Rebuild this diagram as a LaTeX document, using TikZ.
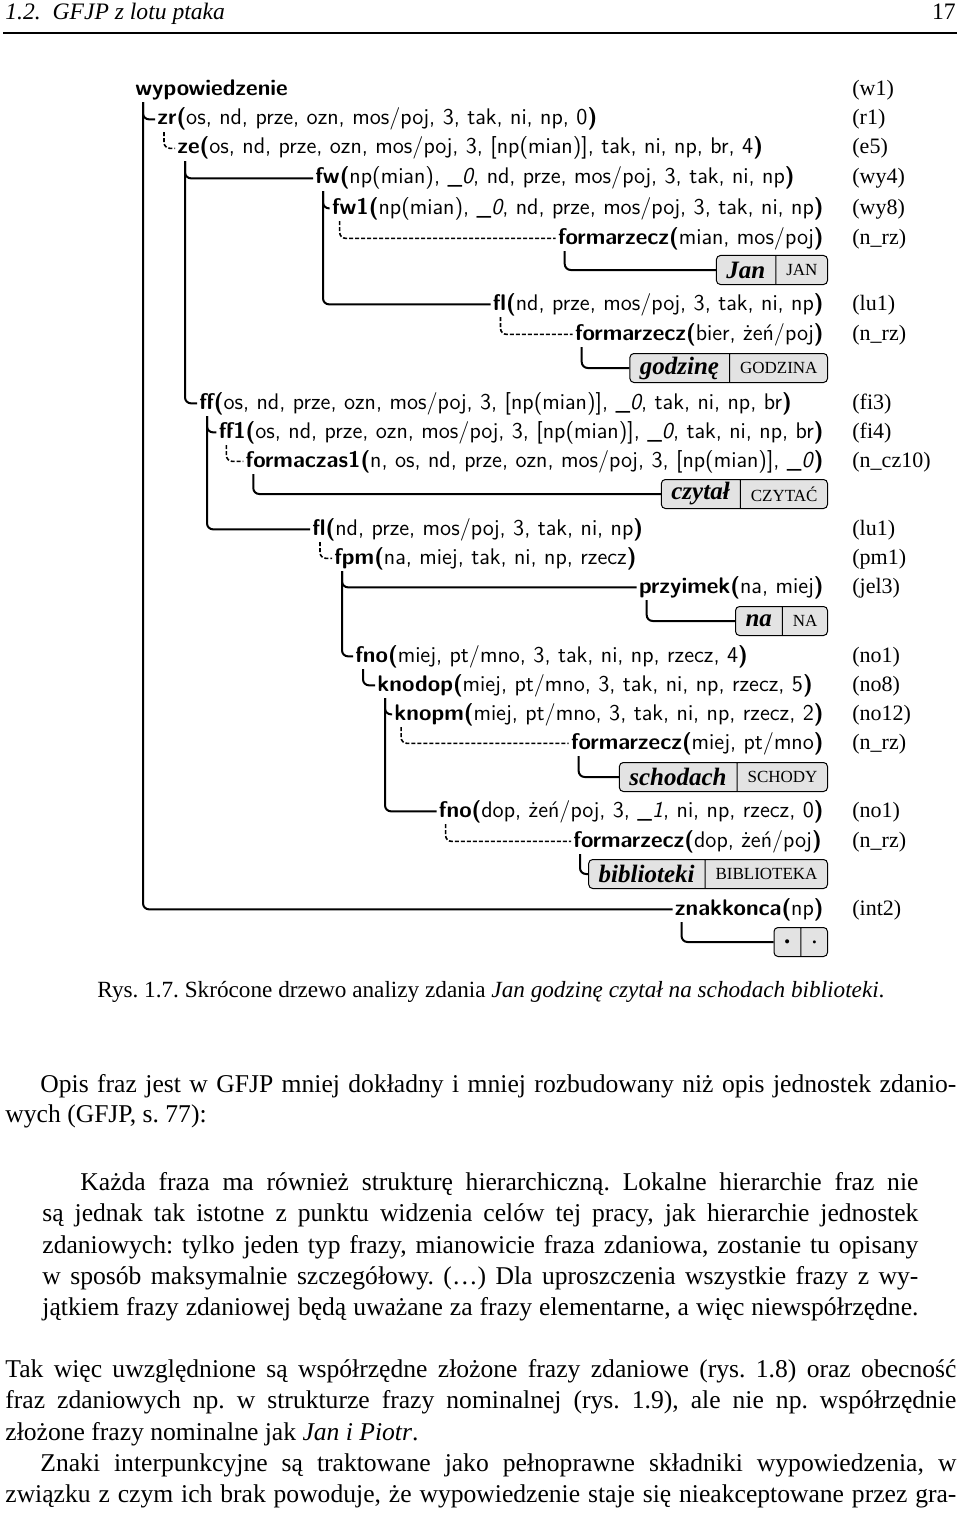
\documentclass[tikz,border=0pt]{standalone}
\usepackage{fontspec}
\setmainfont{Liberation Serif}
\usetikzlibrary{shapes.multipart}
\newcommand{\gfjp}[2]{\textbf{#1(}#2\textbf{)}}
\newcommand{\lem}[1]{{\fontsize{8.5}{9}\selectfont #1}}

\begin{document}
\frenchspacing
\begin{tikzpicture}[x=0.5pt,y=-0.5pt,
  tr/.style={inner xsep=1pt,inner ysep=0.5pt,font=\sffamily\fontsize{11.3}{13}\selectfont},
  lab/.style={inner sep=0pt,anchor=base west,font=\fontsize{11}{13}\selectfont},
  lex/.style={rectangle split,rectangle split horizontal,rectangle split parts=2,draw,fill=gray!22,
    rounded corners=2pt,line width=0.5pt,minimum height=14.5pt,inner xsep=5pt,inner ysep=0pt,
    anchor=east,font=\fontsize{12.5}{13}\selectfont},
  sline/.style={line width=1pt,rounded corners=3pt},
  dline/.style={line width=0.8pt,rounded corners=3pt,dash pattern=on 2pt off 1pt},
  txt/.style={inner sep=0pt,anchor=base west,font=\fontsize{12.8}{15}\selectfont}]
\useasboundingbox (0,0) rectangle (960,1514);

% naglowek strony
\node[txt,font=\fontsize{11.8}{14}\selectfont] (hd) at (5,20) {\textit{1.2.\ \ GFJP z lotu ptaka}};
\node[txt,anchor=base east,font=\fontsize{11.8}{14}\selectfont] (pg) at (956,20) {17};
\draw[line width=1pt] (3,33) -- (957,33);

% drzewo
\node[tr,anchor=base west] (wyp) at (133,96) {\textbf{wypowiedzenie}};
\node[tr,anchor=base west] (zr) at (155,125) {\gfjp{zr}{os, nd, prze, ozn, mos/poj, 3, tak, ni, np, 0}};
\node[tr,anchor=base west] (ze) at (175,154) {\gfjp{ze}{os, nd, prze, ozn, mos/poj, 3, [np(mian)], tak, ni, np, br, 4}};
\node[tr,anchor=base west] (fw) at (313,184) {\gfjp{fw}{np(mian), \_\textit{0}, nd, prze, mos/poj, 3, tak, ni, np}};
\node[tr,anchor=base east] (fw1) at (826,214) {\gfjp{fw1}{np(mian), \_\textit{0}, nd, prze, mos/poj, 3, tak, ni, np}};
\node[tr,anchor=base east] (fmzA) at (826,244) {\gfjp{formarzecz}{mian, mos/poj}};
\node[lex] (jan) at (828,270) {\textbf{\textit{Jan}}\nodepart{two}\lem{JAN}};
\node[tr,anchor=base east] (flA) at (826,310) {\gfjp{fl}{nd, prze, mos/poj, 3, tak, ni, np}};
\node[tr,anchor=base east] (fmzB) at (826,340) {\gfjp{formarzecz}{bier, żeń/poj}};
\node[lex] (godz) at (828,368) {\textbf{\textit{godzinę}}\nodepart{two}\lem{GODZINA}};
\node[tr,anchor=base west] (ff) at (197,409) {\gfjp{ff}{os, nd, prze, ozn, mos/poj, 3, [np(mian)], \_\textit{0}, tak, ni, np, br}};
\node[tr,anchor=base east] (ff1) at (826,438) {\gfjp{ff1}{os, nd, prze, ozn, mos/poj, 3, [np(mian)], \_\textit{0}, tak, ni, np, br}};
\node[tr,anchor=base east] (fcz) at (826,467) {\gfjp{formaczas1}{n, os, nd, prze, ozn, mos/poj, 3, [np(mian)], \_\textit{0}}};
\node[lex] (czytal) at (828,494) {\textbf{\textit{czytał}}\nodepart{two}\lem{CZYTAĆ}};
\node[tr,anchor=base west] (flB) at (310,535) {\gfjp{fl}{nd, prze, mos/poj, 3, tak, ni, np}};
\node[tr,anchor=base west] (fpm) at (332,564) {\gfjp{fpm}{na, miej, tak, ni, np, rzecz}};
\node[tr,anchor=base east] (przy) at (826,593) {\gfjp{przyimek}{na, miej}};
\node[lex] (na) at (828,621) {\textbf{\textit{na}}\nodepart{two}\lem{NA}};
\node[tr,anchor=base west] (fnoA) at (353,662) {\gfjp{fno}{miej, pt/mno, 3, tak, ni, np, rzecz, 4}};
\node[tr,anchor=base west] (knodop) at (375,691) {\gfjp{knodop}{miej, pt/mno, 3, tak, ni, np, rzecz, 5}};
\node[tr,anchor=base east] (knopm) at (826,720) {\gfjp{knopm}{miej, pt/mno, 3, tak, ni, np, rzecz, 2}};
\node[tr,anchor=base east] (fmzC) at (826,749) {\gfjp{formarzecz}{miej, pt/mno}};
\node[lex] (schody) at (828,777) {\textbf{\textit{schodach}}\nodepart{two}\lem{SCHODY}};
\node[tr,anchor=base east] (fnoB) at (826,817) {\gfjp{fno}{dop, żeń/poj, 3, \_\textit{1}, ni, np, rzecz, 0}};
\node[tr,anchor=base west] (fmzD) at (571,847) {\gfjp{formarzecz}{dop, żeń/poj}};
\node[lex] (bibl) at (828,874) {\textbf{\textit{biblioteki}}\nodepart{two}\lem{BIBLIOTEKA}};
\node[tr,anchor=base east] (znak) at (826,915) {\gfjp{znakkonca}{np}};
\node[lex] (kropka) at (828,942) {\textbf{.}\nodepart{two}.};

% reguly
\foreach \y/\r in {96/w1, 125/r1, 154/e5, 184/wy4, 214/wy8, 244/n\_rz, 310/lu1, 340/n\_rz,
    409/fi3, 438/fi4, 467/n\_cz10, 535/lu1, 564/pm1, 593/jel3, 662/no1, 691/no8,
    720/no12, 749/n\_rz, 817/no1, 847/n\_rz, 915/int2}
  \node[lab] (r\y) at (852,\y) {(\r)};

% polaczenia
\draw[sline] ([xshift=5pt]wyp.south west) |- (zr.west);
\draw[sline] ([xshift=5pt]wyp.south west) |- (znak.west);
\draw[dline] ([xshift=4.5pt]zr.south west) |- (ze.west);
\draw[sline] ([xshift=5pt]ze.south west) |- (fw.west);
\draw[sline] ([xshift=5pt]ze.south west) |- (ff.west);
\draw[sline] ([xshift=5pt]fw.south west) |- (fw1.west);
\draw[sline] ([xshift=5pt]fw.south west) |- (flA.west);
\draw[dline] ([xshift=5pt]fw1.south west) |- (fmzA.west);
\draw[sline] ([xshift=4.5pt]fmzA.south west) |- (jan.west);
\draw[dline] ([xshift=5pt]flA.south west) |- (fmzB.west);
\draw[sline] ([xshift=4.5pt]fmzB.south west) |- (godz.west);
\draw[sline] ([xshift=5pt]ff.south west) |- (ff1.west);
\draw[sline] ([xshift=5pt]ff.south west) |- (flB.west);
\draw[dline] ([xshift=5pt]ff1.south west) |- (fcz.west);
\draw[sline] ([xshift=5pt]fcz.south west) |- (czytal.west);
\draw[dline] ([xshift=5pt]flB.south west) |- (fpm.west);
\draw[sline] ([xshift=5pt]fpm.south west) |- (przy.west);
\draw[sline] ([xshift=5pt]fpm.south west) |- (fnoA.west);
\draw[sline] ([xshift=5pt]przy.south west) |- (na.west);
\draw[sline] ([xshift=5pt]fnoA.south west) |- (knodop.west);
\draw[sline] ([xshift=5pt]knodop.south west) |- (knopm.west);
\draw[sline] ([xshift=5pt]knodop.south west) |- (fnoB.west);
\draw[dline] ([xshift=4.5pt]knopm.south west) |- (fmzC.west);
\draw[sline] ([xshift=5pt]fmzC.south west) |- (schody.west);
\draw[dline] ([xshift=4.5pt]fnoB.south west) |- (fmzD.west);
\draw[sline] ([xshift=4.5pt]fmzD.south west) |- (bibl.west);
\draw[sline] ([xshift=4.5pt]znak.south west) |- (kropka.west);

% podpis i tekst
\node[txt,anchor=base,font=\fontsize{11.6}{14}\selectfont] (cap) at (491,997) {Rys. 1.7. Skrócone drzewo analizy zdania \textit{Jan godzinę czytał na schodach biblioteki}.};
\node[txt] (a1) at (40,1092) {\makebox[458pt][s]{Opis fraz jest w GFJP mniej dokładny i mniej rozbudowany niż opis jednostek zdanio-}};
\node[txt] (a2) at (5,1122) {wych (GFJP, s. 77):};
\node[txt] (b1) at (80,1190) {\makebox[419pt][s]{Każda fraza ma również strukturę hierarchiczną. Lokalne hierarchie fraz nie}};
\node[txt] (b2) at (42,1221) {\makebox[438pt][s]{są jednak tak istotne z punktu widzenia celów tej pracy, jak hierarchie jednostek}};
\node[txt] (b3) at (42,1253) {\makebox[438pt][s]{zdaniowych: tylko jeden typ frazy, mianowicie fraza zdaniowa, zostanie tu opisany}};
\node[txt] (b4) at (42,1284) {\makebox[438pt][s]{w sposób maksymalnie szczegółowy. (\ldots) Dla uproszczenia wszystkie frazy z wy-}};
\node[txt] (b5) at (42,1315) {\makebox[438pt][s]{jątkiem frazy zdaniowej będą uważane za frazy elementarne, a więc niewspółrzędne.}};
\node[txt] (c1) at (5,1377) {\makebox[475.5pt][s]{Tak więc uwzględnione są współrzędne złożone frazy zdaniowe (rys. 1.8) oraz obecność}};
\node[txt] (c2) at (5,1408) {\makebox[475.5pt][s]{fraz zdaniowych np. w strukturze frazy nominalnej (rys. 1.9), ale nie np. współrzędnie}};
\node[txt] (c3) at (5,1440) {złożone frazy nominalne jak \textit{Jan i Piotr}.};
\node[txt] (d1) at (40,1471) {\makebox[458pt][s]{Znaki interpunkcyjne są traktowane jako pełnoprawne składniki wypowiedzenia, w}};
\node[txt] (d2) at (5,1502) {\makebox[475.5pt][s]{związku z czym ich brak powoduje, że wypowiedzenie staje się nieakceptowane przez gra-}};
\end{tikzpicture}
\end{document}
